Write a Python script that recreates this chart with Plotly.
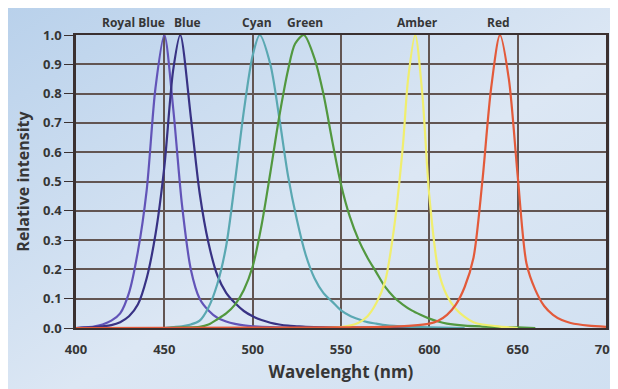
import base64
import plotly.graph_objects as go

# ---- data ----
series_names = ["Royal Blue", "Blue", "Cyan", "Green", "Amber", "Red"]

royal_blue_nm = [400, 405, 410, 415, 420, 425, 430, 435, 440, 445, 450, 455, 460, 465, 470, 475, 480, 485, 490, 495, 500, 510, 530, 560, 600]
royal_blue_val = [0.0, 0.002, 0.005, 0.012, 0.025, 0.05, 0.12, 0.26, 0.47, 0.82, 1.0, 0.75, 0.42, 0.2, 0.1, 0.06, 0.035, 0.022, 0.014, 0.009, 0.006, 0.003, 0.001, 0.0, 0.0]

blue_nm = [400, 410, 415, 420, 425, 430, 435, 440, 445, 450, 455, 459, 465, 470, 475, 480, 485, 490, 495, 500, 505, 510, 515, 520, 525, 530, 540, 560, 600]
blue_val = [0.0, 0.003, 0.006, 0.01, 0.02, 0.04, 0.08, 0.17, 0.32, 0.55, 0.88, 1.0, 0.72, 0.46, 0.29, 0.18, 0.12, 0.085, 0.058, 0.04, 0.027, 0.018, 0.012, 0.008, 0.006, 0.004, 0.002, 0.001, 0.0]

cyan_nm = [450, 455, 460, 465, 470, 475, 480, 485, 490, 495, 500, 504, 510, 515, 520, 525, 530, 535, 540, 545, 550, 555, 560, 565, 570, 575, 580, 590, 600, 620]
cyan_val = [0.0, 0.003, 0.006, 0.012, 0.025, 0.07, 0.15, 0.28, 0.5, 0.74, 0.93, 1.0, 0.9, 0.72, 0.52, 0.37, 0.25, 0.17, 0.12, 0.09, 0.06, 0.042, 0.03, 0.02, 0.015, 0.01, 0.007, 0.004, 0.002, 0.0]

green_nm = [450, 460, 470, 475, 480, 485, 490, 495, 500, 505, 510, 515, 520, 524, 529, 535, 540, 545, 550, 555, 560, 565, 570, 575, 580, 585, 590, 595, 600, 605, 610, 620, 630, 640, 650, 660]
green_val = [0.0, 0.002, 0.004, 0.012, 0.03, 0.05, 0.08, 0.13, 0.21, 0.35, 0.53, 0.72, 0.88, 0.97, 1.0, 0.92, 0.8, 0.64, 0.49, 0.38, 0.3, 0.24, 0.19, 0.14, 0.105, 0.08, 0.06, 0.045, 0.032, 0.022, 0.015, 0.008, 0.005, 0.003, 0.002, 0.0]

amber_nm = [540, 550, 555, 560, 565, 570, 575, 580, 585, 588, 592, 596, 600, 605, 610, 615, 620, 625, 630, 640, 650]
amber_val = [0.0, 0.003, 0.008, 0.018, 0.04, 0.085, 0.16, 0.34, 0.62, 0.85, 1.0, 0.8, 0.45, 0.2, 0.11, 0.065, 0.038, 0.02, 0.012, 0.005, 0.0]

red_nm = [400, 500, 550, 580, 590, 600, 605, 610, 615, 620, 625, 630, 635, 640, 645, 650, 655, 660, 665, 670, 675, 680, 690, 700]
red_val = [0.0, 0.001, 0.002, 0.005, 0.008, 0.015, 0.025, 0.045, 0.08, 0.14, 0.24, 0.5, 0.82, 1.0, 0.85, 0.52, 0.22, 0.13, 0.075, 0.045, 0.027, 0.017, 0.008, 0.004]

y_tick_vals = [0.0, 0.1, 0.2, 0.3, 0.4, 0.5, 0.6, 0.7, 0.8, 0.9, 1.0]
x_tick_vals = [400, 450, 500, 550, 600, 650, 700]

# ---- styles ----
colors = ["#6254b8", "#383284", "#5aa8b2", "#52983f", "#f0ee6e", "#e35a3a"]
label_xshift = [-31, 7, -3, 1, 2, -2]

xs = [royal_blue_nm, blue_nm, cyan_nm, green_nm, amber_nm, red_nm]
ys = [royal_blue_val, blue_val, cyan_val, green_val, amber_val, red_val]

fig = go.Figure()
for name, x, y, c in zip(series_names, xs, ys, colors):
    fig.add_trace(go.Scatter(x=x, y=y, mode="lines", name=name,
                             line=dict(color=c, width=2.2, shape="spline", smoothing=0.8)))

# page body adds an 8px offset, so the figure is 8px smaller
W, H = 610, 381
ml, mr, mt, mb = 68, 12, 27, 61
pw, ph = W - ml - mr, H - mt - mb

font_fam = "Open Sans, Liberation Sans, sans-serif"
txt_col = "#363636"

annotations = []
for name, x, y, dx in zip(series_names, xs, ys, label_xshift):
    peak = x[y.index(max(y))]
    annotations.append(dict(x=peak, y=1, xref="x", yref="paper", text=name,
                            showarrow=False, xshift=dx, yshift=12.5,
                            yanchor="middle", xanchor="center",
                            font=dict(family=font_fam, size=12, color=txt_col, weight="bold")))

svg = ("<svg xmlns='http://www.w3.org/2000/svg' width='200' height='120' preserveAspectRatio='none'>"
       "<defs><linearGradient id='g' x1='0' y1='0' x2='1' y2='1'>"
       "<stop offset='0' stop-color='#b9d1eb'/><stop offset='0.55' stop-color='#dce7f4'/>"
       "<stop offset='1' stop-color='#d0e0f1'/></linearGradient></defs>"
       "<rect width='200' height='120' fill='url(#g)'/></svg>")
bg_src = "data:image/svg+xml;base64," + base64.b64encode(svg.encode()).decode()

images = [dict(source=bg_src, xref="paper", yref="paper",
               x=-ml / pw, y=(ph + mt) / ph, sizex=W / pw, sizey=H / ph,
               xanchor="left", yanchor="top", sizing="stretch", layer="below")]

fig.update_layout(
    width=W, height=H,
    margin=dict(l=ml, r=mr, t=mt, b=mb),
    paper_bgcolor="#d2e1f1",
    plot_bgcolor="white",
    showlegend=False,
    annotations=annotations,
    images=images,
    xaxis=dict(range=[400, 700], tickvals=x_tick_vals, showgrid=True, automargin=False,
               gridcolor="#625552", gridwidth=1.5, zeroline=False,
               showline=True, mirror=True, linecolor="#3a3030", linewidth=2,
               ticks="outside", ticklen=8, tickcolor="rgba(0,0,0,0)",
               tickfont=dict(family=font_fam, size=13, color=txt_col, weight="bold"),
               title=dict(text="Wavelenght (nm)", standoff=10,
                          font=dict(family=font_fam, size=17, color=txt_col, weight="bold"))),
    yaxis=dict(range=[0, 1], tickvals=y_tick_vals, tickformat=".1f", showgrid=True, automargin=False,
               gridcolor="#625552", gridwidth=1.5, zeroline=False,
               showline=True, mirror=True, linecolor="#3a3030", linewidth=2.5,
               ticks="outside", ticklen=9, tickcolor="#3a3030",
               tickfont=dict(family=font_fam, size=13, color=txt_col, weight="bold"),
               title=dict(text="Relative intensity", standoff=10,
                          font=dict(family=font_fam, size=16, color=txt_col, weight="bold"))),
)

fig.write_html("out.html")
